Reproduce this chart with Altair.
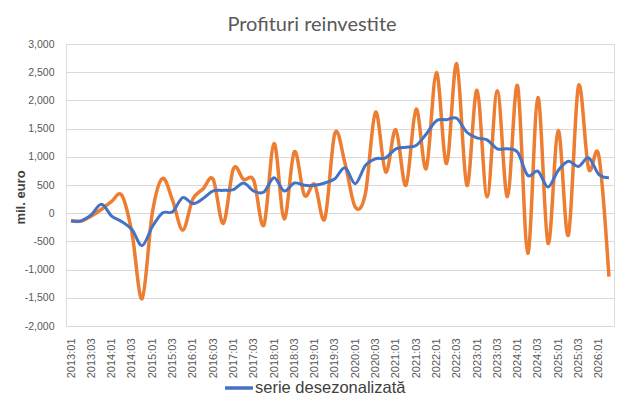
import altair as alt
import pandas as pd

# quarterly categories 2013:01 .. 2026:02
quarters = [f"{y}:0{q}" for y in range(2013, 2027) for q in range(1, 5)][:54]

# raw series (orange), mil. euro
raw = [-135, -140, -50, 70, 210, 317, -350, -1517, 0, 617,
       230, -300, 250, 430, 600, -180, 790, 600, 580, -210,
       1235, -100, 1090, 318, 511, -100, 1420, 880, 110, 345,
       1790, 730, 1480, 494, 1846, 793, 2493, 880, 2650, 494,
       2180, 290, 2170, 290, 2257, -710, 2052, -535, 1464, -390,
       2257, 788, 1023, -1123]

# seasonally adjusted series (blue), mil. euro
sa = [-135, -135, -25, 160, -50, -150, -290, -575, -240, 5,
      25, 277, 170, 260, 394, 405, 417, 535, 393, 376,
      630, 393, 535, 494, 494, 535, 612, 806, 523, 847,
      965, 982, 1141, 1170, 1200, 1405, 1640, 1658, 1682, 1435,
      1335, 1300, 1141, 1141, 1082, 670, 746, 464, 758, 922,
      829, 982, 688, 630]

series_names = ["serie desezonalizată", "serie brută"]
series_colors = ["#4472C4", "#ED7D31"]

df_raw = pd.DataFrame({"idx": range(len(raw)), "quarter": quarters, "value": raw,
                       "series": series_names[1]})
df_sa = pd.DataFrame({"idx": range(len(sa)), "quarter": quarters, "value": sa,
                      "series": series_names[0]})

label_expr_x = "(2013 + floor(datum.value / 4)) + ':0' + (datum.value % 4 + 1)"
label_expr_y = ("datum.value < 0 ? '-' + format(-datum.value, ',') : "
                "format(datum.value, ',')")

x = alt.X("idx:Q",
          scale=alt.Scale(domain=[-0.5, len(raw) - 0.5], nice=False, zero=False),
          axis=alt.Axis(values=list(range(0, len(raw), 2)), labelExpr=label_expr_x,
                        labelAngle=270, labelAlign="right", labelBaseline="middle",
                        labelPadding=12, ticks=False, domain=False, grid=False,
                        title=None, labelFont="Liberation Sans", labelFontSize=11,
                        labelColor="#595959", labelOverlap=False))

y = alt.Y("value:Q",
          scale=alt.Scale(domain=[-2000, 3000], nice=False),
          axis=alt.Axis(values=list(range(-2000, 3001, 500)), labelExpr=label_expr_y,
                        ticks=False, domain=False, gridColor="#D9D9D9", gridWidth=1,
                        labelPadding=12, labelFont="Liberation Sans", labelFontSize=10.5,
                        labelColor="#595959",
                        title="mil. euro", titleFont="Liberation Sans", titleFontSize=13,
                        titleFontWeight="bold", titleColor="#404040",
                        titleX=-46, titleY=153, titleAngle=270,
                        titleAlign="center", titleBaseline="middle"))

color = alt.Color("series:N",
                  scale=alt.Scale(domain=series_names, range=series_colors),
                  legend=alt.Legend(values=[series_names[0]], orient="none",
                                    legendX=157, legendY=328, title=None,
                                    symbolType="stroke", symbolSize=784,
                                    symbolStrokeWidth=3.5, labelFontSize=16.5,
                                    labelFont="Liberation Sans", labelColor="#404040",
                                    labelOffset=0, padding=0))

orange = alt.Chart(df_raw).mark_line(interpolate="cardinal", strokeWidth=3.5).encode(
    x=x, y=y, color=color)
blue = alt.Chart(df_sa).mark_line(interpolate="cardinal", strokeWidth=3).encode(
    x=x, y=y, color=color)

chart = alt.layer(orange, blue).properties(
    width=548, height=282,
    title=alt.TitleParams("Profituri reinvestite", fontSize=20, font="Lato",
                          color="#595959", fontWeight="normal", anchor="middle",
                          dx=-28, offset=4),
    autosize=alt.AutoSizeParams(type="none"),
    padding={"left": 58, "top": 36, "right": 6, "bottom": 82},
).configure_view(stroke=None).configure(background="white")

chart.save("out.html", embed_options={"renderer": "svg", "actions": False})
